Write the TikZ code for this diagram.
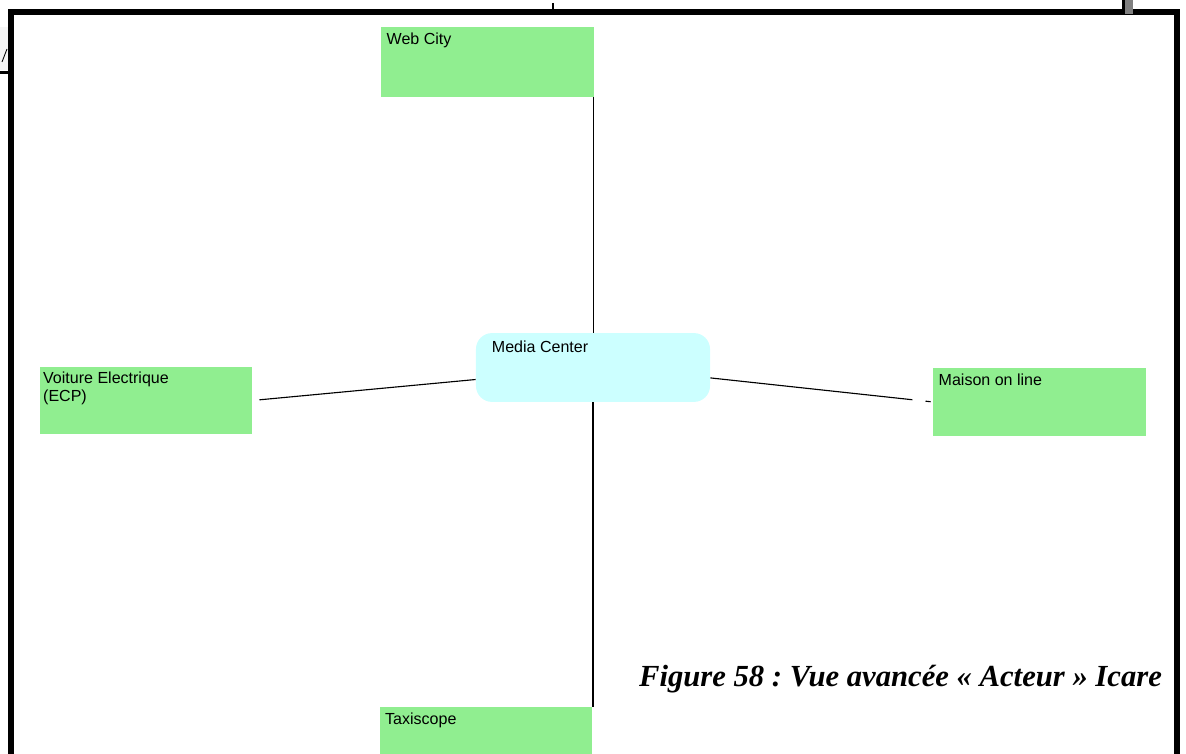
\documentclass[tikz,border=0pt]{standalone}
\usepackage{fontspec}
\setmainfont{Liberation Serif}
\setsansfont{Liberation Sans}
\definecolor{actorgreen}{RGB}{144,238,144}
\definecolor{centercyan}{RGB}{204,255,255}
\tikzset{
  actor/.style={fill=actorgreen, minimum width=5.3cm, minimum height=1.72cm, inner sep=0pt},
  boxlabel/.style={anchor=north west, inner sep=0pt, align=left, font=\sffamily\fontsize{11.4}{13}\selectfont},
  link/.style={line width=0.8pt},
}
\begin{document}
\frenchspacing
\begin{tikzpicture}[x=0.025cm, y=-0.025cm]
    \useasboundingbox (0,0) rectangle (1186,754);

    % Frame
    \draw[line width=4.8pt] (11,754) -- (11,12) -- (1177,12) -- (1177,754);
    \fill[gray!8] (0,27) rectangle (8,70);
    \draw[line width=0.6pt] (2,62) -- (7,49);
    \draw[line width=2.5pt] (0,72.5) -- (8,72.5);
    \draw[line width=1.4pt] (553,3) -- (553,14);
    \fill[gray] (1125,0) rectangle (1133,14);
    \draw[line width=2pt] (1123.5,0) -- (1123.5,14);

    % Actors
    \node[actor, minimum height=1.75cm,
      label={[boxlabel, xshift=0.13cm, yshift=-0.15cm]north west:Web City}] (web) at (487.5,62) {};
    \node[actor, minimum height=1.68cm,
      label={[boxlabel, xshift=0.08cm, yshift=-0.13cm]north west:{Voiture Electrique\\(ECP)}}] (voiture) at (146,400.5) {};
    \node[actor, minimum height=1.7cm,
      label={[boxlabel, xshift=0.13cm, yshift=-0.15cm]north west:Maison on line}] (maison) at (1039.5,402) {};
    \node[actor, minimum height=1.75cm,
      label={[boxlabel, xshift=0.13cm, yshift=-0.15cm]north west:Taxiscope}] (taxi) at (486,742) {};

    % Media Center
    \node[fill=centercyan, rounded corners=0.4cm, minimum width=5.85cm, minimum height=1.72cm, inner sep=0pt,
      label={[boxlabel, xshift=0.4cm, yshift=-0.2cm]north west:Media Center}] (mc) at (593,367.5) {};

    % Links
    \draw[link] (web.south east) -- (web.south east |- mc.north);
    \draw[link] (mc.south) -- (mc.south |- taxi.north);
    \draw[link, shorten <=0.18cm] (voiture.east) -- ([yshift=-0.3cm]mc.west);
    \draw[link, dash pattern=on 5.08cm off 0.33cm on 0.13cm off 1cm] ([yshift=-0.26cm]mc.east) -- (maison.west);

    % Caption
    \node[font=\bfseries\itshape\fontsize{21.8}{24}\selectfont] (caption) at (900.5,679) {Figure 58 : Vue avancée « Acteur » Icare};
\end{tikzpicture}
\end{document}
